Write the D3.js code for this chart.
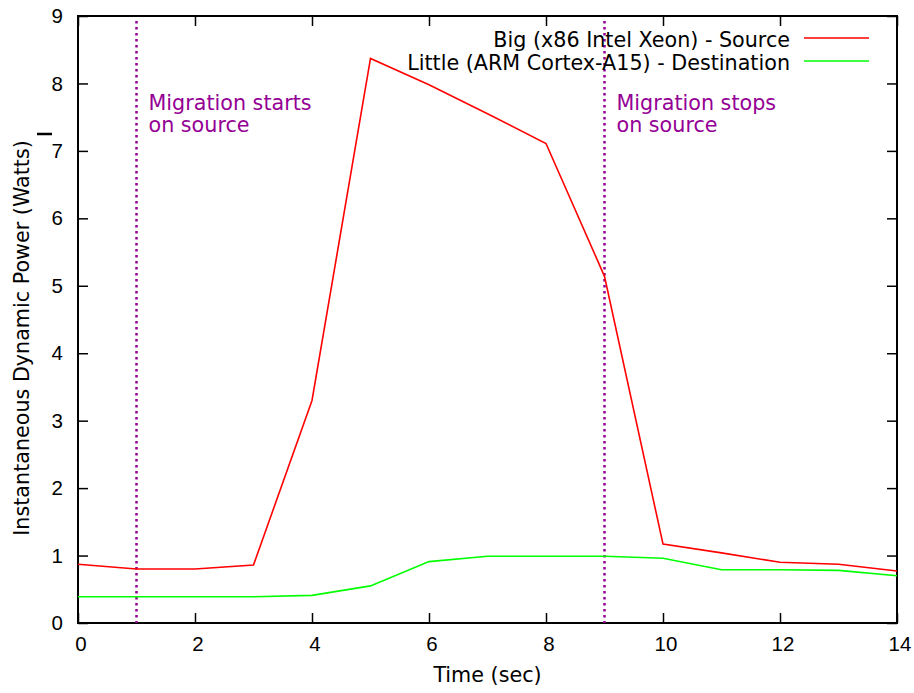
<!DOCTYPE html>
<html><head><meta charset="utf-8">
<script src="https://cdn.jsdelivr.net/npm/d3@7"></script>
<style>body{margin:0;background:#fff}</style>
</head><body>
<script>
const times = [0,1,2,3,4,5,6,7,8,9,10,11,12,13,14];
const bigSource = [0.87,0.80,0.80,0.86,3.30,8.37,7.98,7.55,7.11,5.14,1.17,1.04,0.90,0.87,0.77];
const littleDest = [0.39,0.39,0.39,0.39,0.41,0.55,0.91,0.99,0.99,0.99,0.96,0.79,0.79,0.78,0.70];
const seriesNames = ["Big (x86 Intel Xeon) - Source","Little (ARM Cortex-A15) - Destination"];
const xTicks = [0,2,4,6,8,10,12,14];
const yTicks = [0,1,2,3,4,5,6,7,8,9];
const markers = [{x:1, text:["Migration starts","on source"]},{x:9, text:["Migration stops","on source"]}];

const W=914,H=693;
const L=78,R=897,T=16,B=623;
const svg=d3.select("body").append("svg").attr("width",W).attr("height",H);
const x=d3.scaleLinear().domain([0,14]).range([L,R]);
const y=d3.scaleLinear().domain([0,9]).range([B,T]);
const tickFont="'Liberation Sans', Arial, sans-serif";
const textFont="'DejaVu Sans', sans-serif";
const fs=20.7;

const gx=svg.append("g").attr("transform",`translate(0,${B})`)
  .call(d3.axisBottom(x).tickValues(xTicks).tickSizeInner(-10).tickSizeOuter(0).tickPadding(16));
const gxt=svg.append("g").attr("transform",`translate(0,${T})`)
  .call(d3.axisTop(x).tickValues(xTicks).tickSizeInner(-10).tickSizeOuter(0).tickFormat(""));
const gy=svg.append("g").attr("transform",`translate(${L},0)`)
  .call(d3.axisLeft(y).tickValues(yTicks).tickSizeInner(-10).tickSizeOuter(0).tickPadding(16));
const gyr=svg.append("g").attr("transform",`translate(${R},0)`)
  .call(d3.axisRight(y).tickValues(yTicks).tickSizeInner(-10).tickSizeOuter(0).tickFormat(""));
[gx,gxt,gy,gyr].forEach(g=>{g.select(".domain").remove();
  g.selectAll(".tick line").attr("stroke","#000").attr("stroke-width",1.5);
  g.selectAll("text").attr("font-family",tickFont).attr("font-size",20.5).attr("fill","#000");});
gx.selectAll("text").attr("dy","0.71em").attr("y",13).attr("x",2.5);
gy.selectAll("text").attr("x",-15);

svg.append("rect").attr("x",L).attr("y",T).attr("width",R-L).attr("height",B-T)
  .attr("fill","none").attr("stroke","#000").attr("stroke-width",2);

markers.forEach(m=>{
  svg.append("line").attr("x1",x(m.x)).attr("x2",x(m.x)).attr("y1",T+5).attr("y2",B)
    .attr("stroke","#940094").attr("stroke-width",2.5).attr("stroke-dasharray","2.5,3.5");
  const t=svg.append("text").attr("font-family",textFont).attr("font-size",fs).attr("fill","#940094");
  m.text.forEach((s,i)=>t.append("tspan").attr("x",x(m.x)+12).attr("y",110+i*22).text(s));
});

const line=d3.line().x((d,i)=>x(times[i])).y(d=>y(d));
svg.append("path").datum(littleDest).attr("d",line).attr("fill","none").attr("stroke","#00ff00").attr("stroke-width",1.6);
svg.append("path").datum(bigSource).attr("d",line).attr("fill","none").attr("stroke","#ff0000").attr("stroke-width",1.6);

const colors=["#ff0000","#00ff00"];
seriesNames.forEach((n,i)=>{
  const yy=38+i*23;
  svg.append("text").attr("x",790).attr("y",yy+9).attr("text-anchor","end")
    .attr("font-family",textFont).attr("font-size",fs).attr("fill","#000").text(n);
  svg.append("line").attr("x1",804).attr("x2",869).attr("y1",yy).attr("y2",yy)
    .attr("stroke",colors[i]).attr("stroke-width",1.6);
});

svg.append("text").attr("x",(L+R)/2).attr("y",682).attr("text-anchor","middle")
  .attr("font-family",textFont).attr("font-size",fs).attr("fill","#000").text("Time (sec)");
svg.append("text").attr("transform",`translate(29,338) rotate(-90)`).attr("text-anchor","middle")
  .attr("font-family",textFont).attr("font-size",20.7).attr("fill","#000").text("Instantaneous Dynamic Power (Watts)");
svg.append("line").attr("x1",37).attr("x2",52).attr("y1",134).attr("y2",134).attr("stroke","#000").attr("stroke-width",2.5);
</script>
</body></html>
